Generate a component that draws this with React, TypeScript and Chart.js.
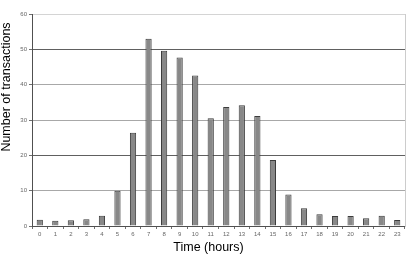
import React, { useEffect, useRef } from "react";
import { Chart, registerables } from "chart.js";

Chart.register(...registerables);

const hours = ["0","1","2","3","4","5","6","7","8","9","10","11","12","13","14","15","16","17","18","19","20","21","22","23"];
const transactions = [1.8, 1.5, 1.6, 1.9, 2.9, 10, 26.4, 53.0, 49.6, 47.7, 42.6, 30.5, 33.7, 34.2, 31.1, 18.7, 8.9, 5.0, 3.3, 2.8, 2.8, 2.2, 2.9, 1.7];
const yTicks = [0, 10, 20, 30, 40, 50, 60];
const xTitle = "Time (hours)";
const yTitle = "Number of transactions";

const FONT = "Liberation Sans, Arial, sans-serif";

const gridColorFor = (v: number) => {
  if (v === 60) return "#d4d4d4";
  if (v === 50 || v === 20) return "#606060";
  if (v === 0) return "rgba(0,0,0,0)";
  return "#a8a8a8";
};

const titlesPlugin = {
  id: "axisTitles",
  afterDraw(chart: any) {
    const ctx = chart.ctx;
    const area = chart.chartArea;
    ctx.save();
    ctx.fillStyle = "#000000";
    ctx.font = `12.5px ${FONT}`;
    ctx.textAlign = "center";
    ctx.textBaseline = "middle";
    // x-axis title, a little left of the plot centre as in the reference
    ctx.fillText(xTitle, (area.left + area.right) / 2 - 10, chart.height - 12);
    // y-axis title, raised above the plot centre as in the reference
    ctx.translate(7, (area.top + area.bottom) / 2 - 33);
    ctx.rotate(-Math.PI / 2);
    ctx.fillText(yTitle, 0, 0);
    ctx.restore();
  },
};

export default function App() {
  const ref = useRef<HTMLCanvasElement | null>(null);
  useEffect(() => {
    if (!ref.current) return;
    const chart = new Chart(ref.current, {
      type: "bar",
      data: {
        labels: hours,
        datasets: [
          {
            data: transactions,
            backgroundColor: "#888888",
            borderColor: "#3c3c3c",
            borderWidth: 1,
            borderSkipped: "bottom",
            barPercentage: 0.4,
            categoryPercentage: 1,
          },
        ],
      },
      plugins: [titlesPlugin],
      options: {
        animation: false,
        responsive: true,
        maintainAspectRatio: false,
        layout: { padding: { left: 0, top: 14, right: 9, bottom: 0 } },
        plugins: { legend: { display: false }, tooltip: { enabled: false } },
        scales: {
          x: {
            offset: true,
            grid: {
              display: true,
              drawOnChartArea: false,
              drawTicks: true,
              tickLength: 3,
              offset: true,
              tickColor: "#707070",
            },
            border: { display: true, color: "#505050", width: 1 },
            ticks: {
              font: { family: FONT, size: 6 },
              color: "#666666",
              padding: 2,
              maxRotation: 0,
              autoSkip: false,
            },
            title: { display: false },
            afterFit: (scale: any) => {
              scale.height = 34;
            },
          },
          y: {
            min: 0,
            max: 60,
            afterBuildTicks: (scale: any) => {
              scale.ticks = yTicks.map((v) => ({ value: v }));
            },
            grid: {
              color: (ctx: any) => gridColorFor(ctx.tick ? ctx.tick.value : 0),
              tickColor: "#707070",
              tickLength: 3,
              lineWidth: 1,
            },
            border: { display: true, color: "#505050", width: 1 },
            ticks: {
              font: { family: FONT, size: 6 },
              color: "#666666",
              padding: 2,
            },
            title: { display: false },
            afterFit: (scale: any) => {
              scale.width = 32;
            },
          },
          y2: {
            position: "right",
            min: 0,
            max: 60,
            grid: { drawOnChartArea: false, drawTicks: false },
            border: { display: true, color: "#cccccc", width: 1 },
            ticks: { display: false },
            afterFit: (scale: any) => {
              scale.width = 0;
            },
          },
        },
      },
    });
    return () => chart.destroy();
  }, []);
  return (
    <div style={{ position: "fixed", left: 0, top: 0, width: 414, height: 260, background: "#ffffff" }}>
      <canvas ref={ref} />
    </div>
  );
}
